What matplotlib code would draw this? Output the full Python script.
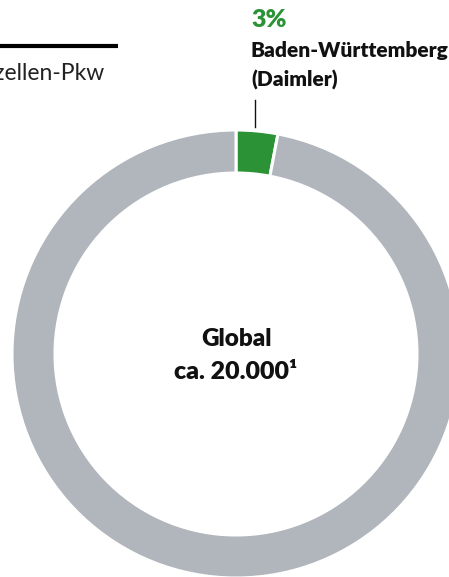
import matplotlib.pyplot as plt

# Anteil an den Brennstoffzellen-Pkw weltweit
labels = ['Baden-Württemberg (Daimler)', 'Rest der Welt']
shares = [3, 97]
colors = ['#2b9236', '#b1b5bc']

W, H = 449, 577
fig = plt.figure(figsize=(W / 100, H / 100), dpi=100)
ax = fig.add_axes([0, 0, 1, 1])

# Ring
ax.pie(shares, colors=colors, center=(236, 223), radius=224,
       startangle=90, counterclock=False,
       wedgeprops=dict(width=43, edgecolor='white', linewidth=2.2))
ax.set_xlim(0, W)
ax.set_ylim(0, H)
ax.set_aspect('equal')
ax.axis('off')

# Titelzeile (links abgeschnitten wie im Original)
ax.plot([0, 118], [531, 531], color='black', lw=3, solid_capstyle='butt')
ax.text(105, 504, 'Brennstoffzellen-Pkw', ha='right', va='center',
        fontsize=16.5, family='Lato', color='#222222')

# Beschriftung des Segments
ax.text(251, 557, f'{shares[0]}%', ha='left', va='center', fontsize=18,
        family='Lato', fontweight='heavy', color=colors[0])
ax.text(251, 526, 'Baden-Württemberg', ha='left', va='center', fontsize=15,
        family='Lato', fontweight='heavy', color='#111111')
ax.text(251, 497, '(Daimler)', ha='left', va='center', fontsize=15,
        family='Lato', fontweight='heavy', color='#111111')
ax.plot([255, 255], [450, 477], color='#111111', lw=1)

# Mitte
ax.text(237, 238, 'Global', ha='center', va='center', fontsize=17.5,
        family='Lato', fontweight='heavy', color='#111111')
ax.text(236, 205, 'ca. 20.000¹', ha='center', va='center', fontsize=18,
        family='Lato', fontweight='heavy', color='#111111')

fig.savefig('out.png', dpi=100)
